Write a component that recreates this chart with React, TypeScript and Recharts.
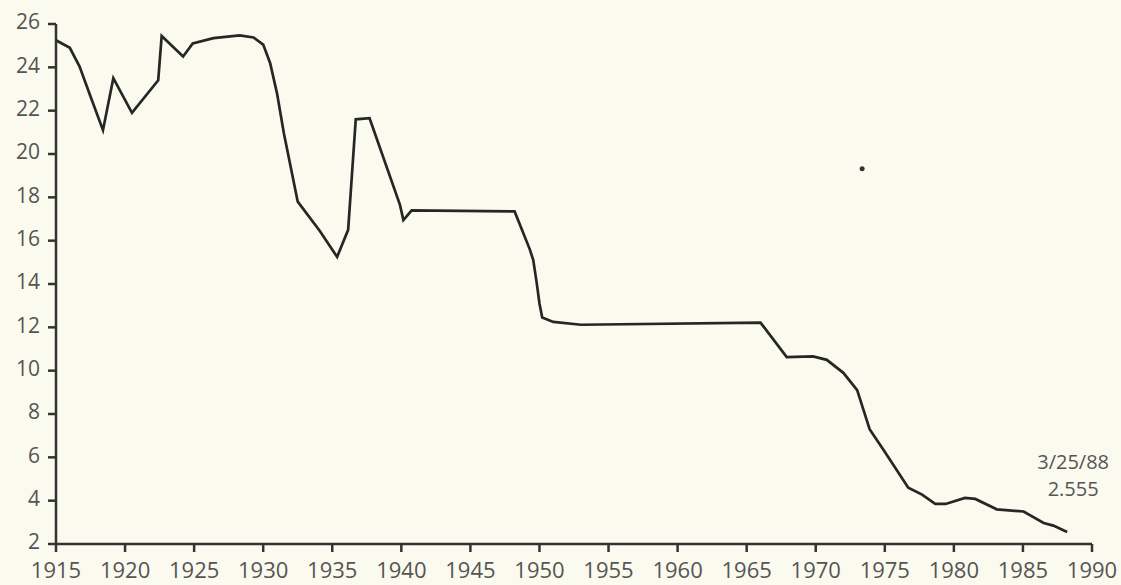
import { LineChart, Line, XAxis, YAxis, ReferenceDot } from "recharts";

// yield (%), year as decimal
const years = [
  1915, 1916, 1916.7, 1917.5, 1918.4, 1919.15, 1920.5, 1922.4, 1922.65, 1924.2,
  1924.9, 1926.4, 1928.3, 1929.3, 1930.0, 1930.5, 1931.0, 1931.5, 1932.5, 1934.1,
  1935.35, 1936.15, 1936.7, 1937.7, 1939.9, 1940.15, 1940.75, 1948.2, 1949.3,
  1949.55, 1949.8, 1950.0, 1950.2, 1951.0, 1953.0, 1966.0, 1967.9, 1969.8, 1970.8,
  1972.0, 1973.0, 1973.9, 1974.9, 1976.7, 1977.7, 1978.65, 1979.4, 1980.8,
  1981.55, 1983.1, 1985.05, 1986.5, 1987.2, 1988.2,
];
const rates = [
  25.25, 24.9, 24.05, 22.65, 21.1, 23.5, 21.9, 23.4, 25.45, 24.5,
  25.1, 25.35, 25.47, 25.38, 25.05, 24.2, 22.8, 20.95, 17.8, 16.45,
  15.25, 16.5, 21.6, 21.65, 17.65, 16.95, 17.4, 17.35, 15.6,
  15.1, 14.05, 13.1, 12.45, 12.25, 12.12, 12.22, 10.63, 10.66, 10.5,
  9.9, 9.1, 7.3, 6.35, 4.6, 4.28, 3.85, 3.85, 4.13,
  4.08, 3.6, 3.5, 2.97, 2.85, 2.555,
];

const xTicks = [1915, 1920, 1925, 1930, 1935, 1940, 1945, 1950, 1955, 1960, 1965, 1970, 1975, 1980, 1985, 1990];
const yTicks = [2, 4, 6, 8, 10, 12, 14, 16, 18, 20, 22, 24, 26];

const lastDate = "3/25/88";
const lastValue = "2.555";
const speck = { x: 1973.36, y: 19.32 };

const data = years.map((year, i) => ({ year, rate: rates[i] }));

const ink = "#333";
const textColor = "#555";
const font = "'Open Sans', sans-serif";

function EndNote(props: any) {
  const { cx, cy } = props;
  if (cx == null || cy == null) return null;
  return (
    <g>
      <text x={cx + 6} y={cy - 63} textAnchor="middle" fill={textColor} fontFamily={font} fontSize={20}>
        {lastDate}
      </text>
      <text x={cx + 6} y={cy - 36} textAnchor="middle" fill={textColor} fontFamily={font} fontSize={20}>
        {lastValue}
      </text>
    </g>
  );
}

export default function App() {
  return (
    <div style={{ position: "absolute", left: 0, top: 0, width: 1121, height: 585, background: "#fbfaee" }}>
      <LineChart width={1121} height={585} data={data} margin={{ top: 24, right: 29, bottom: 0, left: 0 }}>
        <XAxis
          dataKey="year"
          type="number"
          domain={[1915, 1990]}
          ticks={xTicks}
          interval={0}
          height={41}
          tickSize={8}
          tickMargin={10}
          stroke={ink}
          strokeWidth={2.5}
          tick={{ fill: textColor, fontFamily: font, fontSize: 22 }}
        />
        <YAxis
          type="number"
          domain={[2, 26]}
          ticks={yTicks}
          interval={0}
          width={56}
          tickSize={8}
          tickMargin={8}
          stroke={ink}
          strokeWidth={2.5}
          tick={{ fill: textColor, fontFamily: font, fontSize: 21, dy: -2 }}
        />
        <Line
          dataKey="rate"
          type="linear"
          stroke="#262626"
          strokeWidth={2.7}
          dot={false}
          isAnimationActive={false}
        />
        <ReferenceDot x={speck.x} y={speck.y} r={2.5} fill={ink} stroke="none" />
        <ReferenceDot x={1988.2} y={2.555} r={0} shape={EndNote} />
      </LineChart>
    </div>
  );
}
